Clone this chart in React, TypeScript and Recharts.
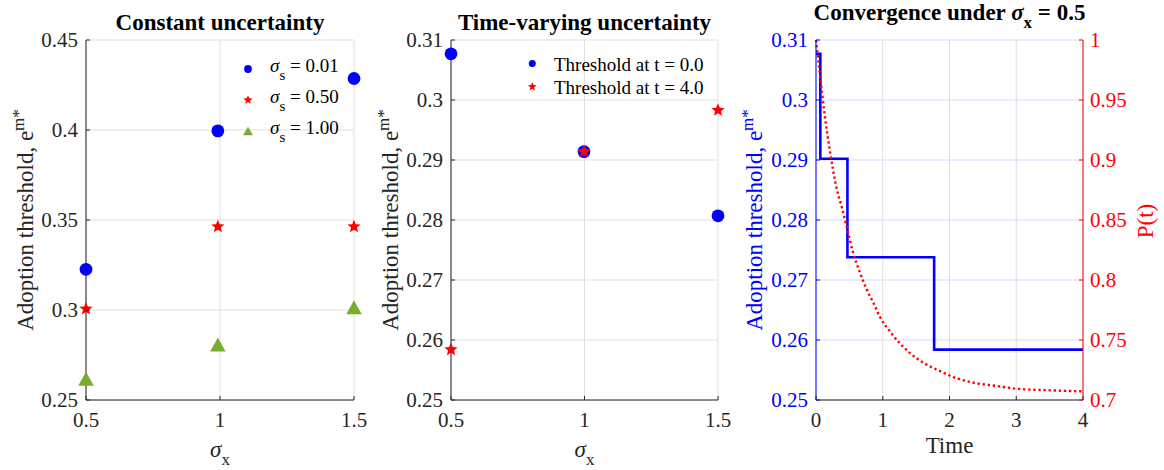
import React from 'react';
import { ScatterChart, ComposedChart, Scatter, Line, XAxis, YAxis, CartesianGrid } from 'recharts';

const FONT = '"Liberation Serif", "Times New Roman", Times, serif';
const INK = '#262626';
const BLUE = '#0000ff';
const RED = '#ff0000';
const GREEN = '#77ac30';
const GRID = '#dfdfdf';
const GRID_BLUE = '#d9d9ff';

// ---- Panel 1: constant uncertainty ----
const constSigmaX = [0.5, 0.992, 1.5];
const constS001 = [0.3226, 0.3995, 0.4286];
const constS050 = [0.3006, 0.3463, 0.3463];
const constS100 = [0.2618, 0.2808, 0.3015];
const constYTicks = [0.25, 0.3, 0.35, 0.4, 0.45];
const sigmaXTicks = [0.5, 1, 1.5];

// ---- Panel 2: time-varying uncertainty ----
const tvSigmaX = [0.5, 0.998, 1.5];
const tvThresholdT0 = [0.3077, 0.2914, 0.2807];
const tvThresholdT4 = [0.2584, 0.2914, 0.2983];
const thresholdTicks = [0.25, 0.26, 0.27, 0.28, 0.29, 0.3, 0.31];

// ---- Panel 3: convergence ----
const stepTimes = [0, 0.065, 0.471, 1.77, 4];
const stepThreshold = [0.3077, 0.2902, 0.2738, 0.2584, 0.2584];
const pTimes = [0, 0.06, 0.13, 0.21, 0.31, 0.39, 0.47, 0.56, 0.66, 0.76, 0.86, 0.96, 1.11, 1.26, 1.41, 1.61, 1.86, 2.11, 2.36, 2.7, 3.0, 3.4, 4.0];
const pValues = [1.0, 0.971, 0.9375, 0.907, 0.876, 0.86, 0.842, 0.822, 0.806, 0.792, 0.781, 0.769, 0.757, 0.747, 0.739, 0.731, 0.724, 0.718, 0.7144, 0.7117, 0.7094, 0.7083, 0.7072];
const timeTicks = [0, 1, 2, 3, 4];
const pTicks = [0.7, 0.75, 0.8, 0.85, 0.9, 0.95, 1];

const toPts = (xs: number[], ys: number[]) => xs.map((x, i) => ({ x, y: ys[i] }));
const stepData = stepTimes.map((t, i) => ({ t, e: stepThreshold[i] }));
const pData = pTimes.map((t, i) => ({ t, p: pValues[i] }));

const TICK_FS = 21;
const LABEL_FS = 23;
const LEG_FS = 19;
const TL = 4; // inward tick length

// ---- marker shapes ----
function starPoints(cx: number, cy: number, R: number) {
  const r = R * 0.44;
  const pts: string[] = [];
  for (let k = 0; k < 10; k++) {
    const rad = k % 2 === 0 ? R : r;
    const a = -Math.PI / 2 + (k * Math.PI) / 5;
    pts.push(`${cx + rad * Math.cos(a)},${cy + rad * Math.sin(a)}`);
  }
  return pts.join(' ');
}
const Circle = (cx: number, cy: number, r: number, c: string) => <circle cx={cx} cy={cy} r={r} fill={c} />;
const Star = (cx: number, cy: number, R: number, c: string) => <polygon points={starPoints(cx, cy, R)} fill={c} />;
const Tri = (cx: number, cy: number, w: number, h: number, c: string) => (
  <polygon points={`${cx - w / 2},${cy + h / 2} ${cx + w / 2},${cy + h / 2} ${cx},${cy - h / 2}`} fill={c} />
);

// ---- ticks ----
const bottomTick = (axisY: number, color: string, inner: boolean) => (p: any) => {
  const v = p.payload.value;
  return (
    <g>
      {inner ? <line x1={p.x} x2={p.x} y1={axisY} y2={axisY - TL} stroke={color} /> : null}
      <text x={p.x} y={axisY + 12} dy="0.71em" textAnchor="middle" fontSize={TICK_FS} fontFamily={FONT} fill={color}>{String(v)}</text>
    </g>
  );
};
const topTick = (axisY: number, color: string) => (p: any) => (
  <line x1={p.x} x2={p.x} y1={axisY} y2={axisY + TL} stroke={color} />
);
const leftTick = (axisX: number, color: string) => (p: any) => (
  <g>
    <line x1={axisX} x2={axisX + TL} y1={p.y} y2={p.y} stroke={color} />
    <text x={axisX - 8} y={p.y} dy="0.355em" textAnchor="end" fontSize={TICK_FS} fontFamily={FONT} fill={color}>{String(p.payload.value)}</text>
  </g>
);
const rightTick = (axisX: number, color: string) => (p: any) => (
  <g>
    <line x1={axisX} x2={axisX - TL} y1={p.y} y2={p.y} stroke={color} />
    <text x={axisX + 7} y={p.y} dy="0.355em" textAnchor="start" fontSize={TICK_FS} fontFamily={FONT} fill={color}>{String(p.payload.value)}</text>
  </g>
);

const YLabel = ({ x, y, color }: { x: number; y: number; color: string }) => (
  <text transform={`rotate(-90, ${x}, ${y})`} x={x} y={y} textAnchor="middle" fontSize={LABEL_FS} fontFamily={FONT} fill={color}>
    {'Adoption threshold, e'}
    <tspan dy={-9} fontSize={17}>m*</tspan>
  </text>
);
const SigmaXLabel = ({ x, y }: { x: number; y: number }) => (
  <text x={x} y={y} textAnchor="middle" fontSize={LABEL_FS} fontFamily={FONT} fill={INK}>
    <tspan fontStyle="italic">σ</tspan>
    <tspan dy={8} fontSize={17}>x</tspan>
  </text>
);
const Title = ({ x, y, children }: { x: number; y: number; children: any }) => (
  <text x={x} y={y} textAnchor="middle" fontSize={LABEL_FS} fontWeight="bold" fontFamily={FONT} fill="#000">{children}</text>
);

function Panel1() {
  const legendRows = [
    { y: 69, label: '= 0.01', mk: Circle(248, 69, 3.9, BLUE) },
    { y: 100, label: '= 0.50', mk: Star(248, 100, 4.8, RED) },
    { y: 131, label: '= 1.00', mk: Tri(248, 131, 9.7, 8.5, GREEN) },
  ];
  return (
    <ScatterChart width={380} height={470} margin={{ top: 40, right: 26, bottom: 40, left: 26 }}>
      <CartesianGrid stroke={GRID} />
      <XAxis type="number" dataKey="x" domain={[0.5, 1.5]} ticks={sigmaXTicks} height={30} tickSize={0}
        axisLine={{ stroke: INK }} tickLine={false} tick={bottomTick(400, INK, true)} />
      <YAxis type="number" dataKey="y" domain={[0.25, 0.45]} ticks={constYTicks} width={60} tickSize={0}
        axisLine={{ stroke: INK }} tickLine={false} tick={leftTick(86, INK)} />
      <Scatter name="s001" data={toPts(constSigmaX, constS001)} isAnimationActive={false}
        shape={(p: any) => Circle(p.cx, p.cy, 6.4, BLUE)} />
      <Scatter name="s050" data={toPts(constSigmaX, constS050)} isAnimationActive={false}
        shape={(p: any) => Star(p.cx, p.cy, 7, RED)} />
      <Scatter name="s100" data={toPts(constSigmaX, constS100)} isAnimationActive={false}
        shape={(p: any) => Tri(p.cx, p.cy, 15.5, 14, GREEN)} />
      <Title x={220} y={30}>Constant uncertainty</Title>
      <YLabel x={33} y={220} color={INK} />
      <SigmaXLabel x={220} y={457} />
      {legendRows.map((r, i) => (
        <g key={i}>
          {r.mk}
          <text x={270} y={r.y + 3} fontSize={LEG_FS} fontFamily={FONT} fill="#000">
            <tspan fontStyle="italic">σ</tspan>
            <tspan dy={8} fontSize={15}>s</tspan>
            <tspan dy={-8}>{' ' + r.label}</tspan>
          </text>
        </g>
      ))}
    </ScatterChart>
  );
}

function Panel2() {
  return (
    <ScatterChart width={380} height={470} margin={{ top: 40, right: 32, bottom: 40, left: 21 }}>
      <CartesianGrid stroke={GRID} />
      <XAxis type="number" dataKey="x" domain={[0.5, 1.5]} ticks={sigmaXTicks} height={30} tickSize={0}
        axisLine={{ stroke: INK }} tickLine={false} tick={bottomTick(400, INK, true)} />
      <YAxis type="number" dataKey="y" domain={[0.25, 0.31]} ticks={thresholdTicks} width={60} tickSize={0}
        axisLine={{ stroke: INK }} tickLine={false} tick={leftTick(81, INK)} />
      <Scatter name="t0" data={toPts(tvSigmaX, tvThresholdT0)} isAnimationActive={false}
        shape={(p: any) => Circle(p.cx, p.cy, 6.4, BLUE)} />
      <Scatter name="t4" data={toPts(tvSigmaX, tvThresholdT4)} isAnimationActive={false}
        shape={(p: any) => Star(p.cx, p.cy, 7, RED)} />
      <Title x={214.5} y={30}>Time-varying uncertainty</Title>
      <YLabel x={28} y={220} color={INK} />
      <SigmaXLabel x={214.5} y={457} />
      {Circle(162.3, 63.5, 3.5, BLUE)}
      {Star(162.3, 86.7, 4.6, RED)}
      <text x={184} y={70.5} fontSize={LEG_FS} fontFamily={FONT} fill="#000">Threshold at t = 0.0</text>
      <text x={184} y={93.5} fontSize={LEG_FS} fontFamily={FONT} fill="#000">Threshold at t = 4.0</text>
    </ScatterChart>
  );
}

// Panel 3 svg starts at page x = 725
function Panel3() {
  return (
    <ComposedChart width={439} height={470} margin={{ top: 40, right: 21, bottom: 40, left: 31 }}>
      <CartesianGrid yAxisId="left" vertical={false} stroke={GRID_BLUE} />
      <CartesianGrid yAxisId="left" horizontal={false} stroke={GRID} />
      <XAxis type="number" dataKey="t" domain={[0, 4]} ticks={timeTicks} height={30} tickSize={0}
        axisLine={{ stroke: INK }} tickLine={false} tick={bottomTick(400, INK, true)} />
      <XAxis xAxisId="top" orientation="top" type="number" dataKey="t" domain={[0, 4]} ticks={timeTicks} height={0} tickSize={0}
        axisLine={{ stroke: INK }} tickLine={false} tick={topTick(40, INK)} />
      <YAxis yAxisId="left" orientation="left" type="number" domain={[0.25, 0.31]} ticks={thresholdTicks} width={60} tickSize={0}
        axisLine={{ stroke: BLUE }} tickLine={false} tick={leftTick(91, BLUE)} />
      <YAxis yAxisId="right" orientation="right" type="number" domain={[0.7, 1]} ticks={pTicks} width={60} tickSize={0}
        axisLine={{ stroke: RED }} tickLine={false} tick={rightTick(358, RED)} />
      <Line yAxisId="left" data={stepData} dataKey="e" type="stepAfter" stroke={BLUE} strokeWidth={2.6}
        dot={false} activeDot={false} isAnimationActive={false} />
      <Line yAxisId="right" data={pData} dataKey="p" type="monotone" stroke={RED} strokeWidth={2.4}
        strokeDasharray="2.3 2.8" dot={false} activeDot={false} isAnimationActive={false} />
      <Title x={224.5} y={20}>
        {'Convergence under '}
        <tspan fontStyle="italic">σ</tspan>
        <tspan dy={8} fontSize={17}>x</tspan>
        <tspan dy={-8}>{' = 0.5'}</tspan>
      </Title>
      <YLabel x={37} y={220} color={BLUE} />
      <text transform="rotate(-90, 428, 221)" x={428} y={221} textAnchor="middle" fontSize={LABEL_FS} fontFamily={FONT} fill={RED}>P(t)</text>
      <text x={224.5} y={453} textAnchor="middle" fontSize={LABEL_FS} fontFamily={FONT} fill={INK}>Time</text>
    </ComposedChart>
  );
}

export default function App() {
  return (
    <div style={{ position: 'absolute', left: 0, top: 0, width: 1164, height: 470, background: '#fff', overflow: 'hidden' }}>
      <div style={{ position: 'absolute', left: 0, top: 0 }}><Panel1 /></div>
      <div style={{ position: 'absolute', left: 370, top: 0 }}><Panel2 /></div>
      <div style={{ position: 'absolute', left: 725, top: 0 }}><Panel3 /></div>
    </div>
  );
}
